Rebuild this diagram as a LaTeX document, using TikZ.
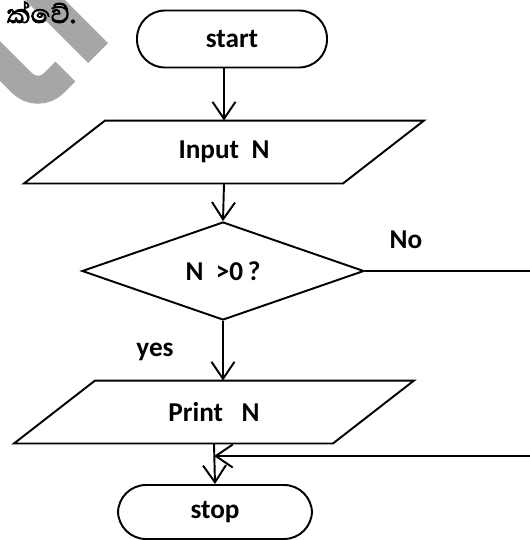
\documentclass[tikz,border=0pt]{standalone}
\usepackage{fontspec}
\setmainfont{Carlito}
\newfontfamily\sinhalafont[Script=Sinhala, AutoFakeBold=2.5]{Abhaya Libre}
\usetikzlibrary{arrows.meta, shapes.geometric, positioning}

\begin{document}
\begin{tikzpicture}
    [
        x=0.2mm, y=-0.2mm,
        line width=1.1pt,
        every node/.style = {
            font=\bfseries\fontsize{15.5}{18}\selectfont
        },
        terminal/.style = {
            draw, rectangle, rounded corners=5.6mm, inner sep=0pt,
            minimum width=38mm, minimum height=11.4mm
        },
        io/.style = {
            rectangle, inner sep=0pt,
            minimum width=63.4mm, minimum height=12.2mm
        },
        decision/.style = {
            draw, diamond, inner sep=0pt,
            minimum width=56.4mm, minimum height=19.6mm
        },
        flow/.style = {
            -{Straight Barb[length=3.4mm, width=4.6mm]}
        },
        watermark/.style = {
            draw=gray!70, line width=5.6mm, rounded corners=4.5mm
        },
    ]
    \clip (0,0) rectangle (530,540);
    % watermark in the corner
    \draw[watermark] (20,-25) -- (98,53);
    \draw[watermark] (-20,41) -- (38,99) -- (65.5,71.5);
    \node[anchor=base west, font=\sinhalafont\bfseries\fontsize{19}{22}\selectfont] (caption) at (0,23) {ක්වේ.};
    % flow chart
    \node[terminal] (start) at (232,39) {start};
    \node[io] (input) at (224,152) {Input\ \ N};
    \node[decision] (test) at (223,271) {N\ \ >0\,?};
    \node[io] (print) at (214,412) {Print\ \ \ N};
    \node[terminal, minimum width=38.8mm, minimum height=10.8mm] (stop) at (215,512) {stop};
    \node (yes) at (155,352) {yes};
    \node (no) at (406,240) {No};
    % slanted sides of the input/output boxes
    \draw ([xshift=8.1mm]input.north west) -- ([xshift=8.1mm]input.north east)
        -- ([xshift=-8.1mm]input.south east) -- ([xshift=-8.1mm]input.south west) -- cycle;
    \draw ([xshift=8.1mm]print.north west) -- ([xshift=8.1mm]print.north east)
        -- ([xshift=-8.1mm]print.south east) -- ([xshift=-8.1mm]print.south west) -- cycle;
    \coordinate (join) at (print.south |- 0,456);
    \coordinate (back) at (560,456);
    \draw[flow] (start.south -| input.north) -- (input.north);
    \draw[flow] (input.south) -- (test.north);
    \draw[flow] (test.south) -- (test.south |- print.north);
    \draw[flow] (print.south) -- (stop.north);
    \draw[flow] (test.east) -| (back) -- (join);
\end{tikzpicture}
\end{document}
